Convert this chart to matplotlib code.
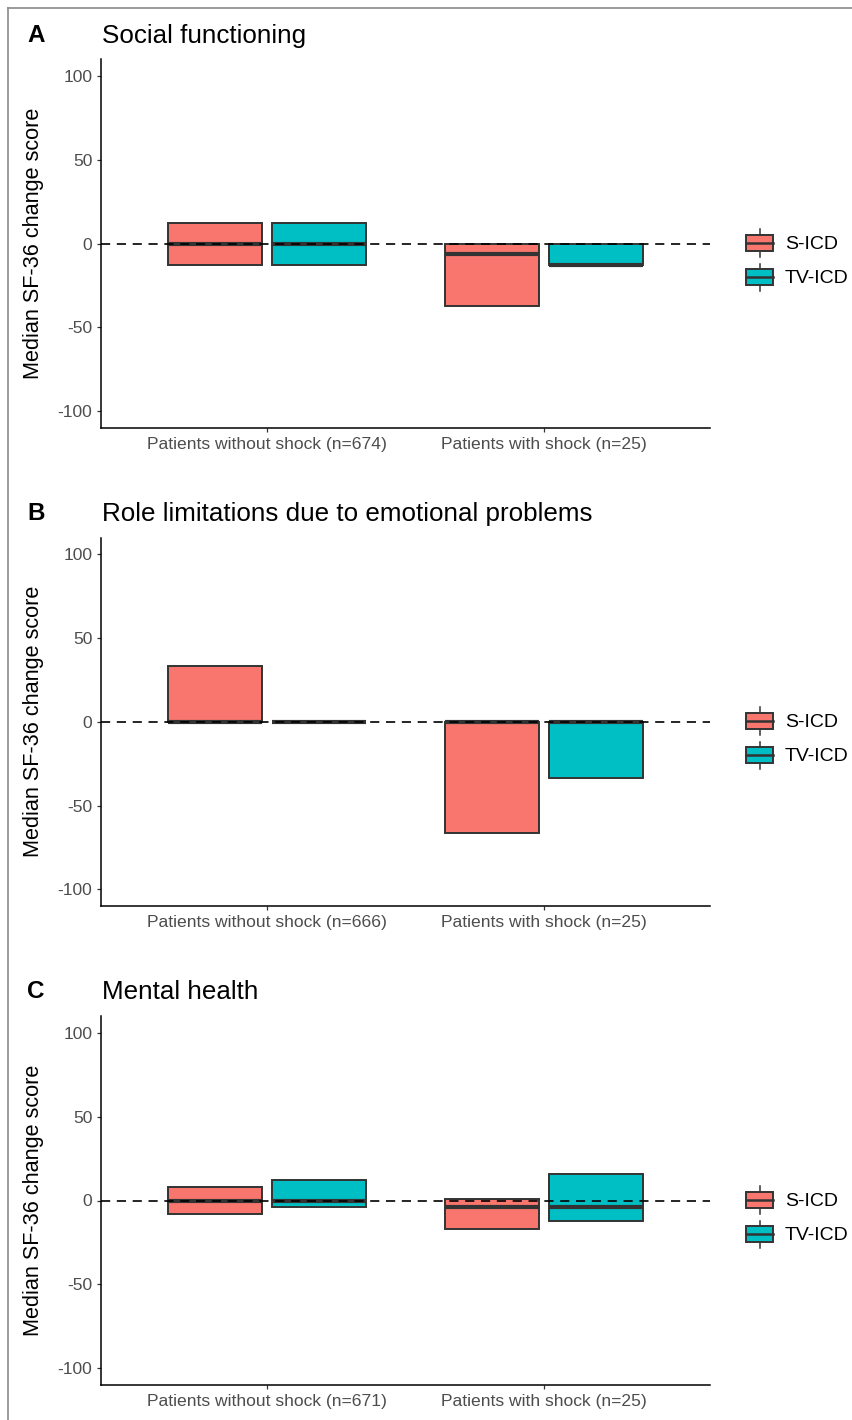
import matplotlib
matplotlib.use("Agg")
import matplotlib.pyplot as plt
from matplotlib.legend_handler import HandlerBase
from matplotlib.patches import Rectangle
from matplotlib.lines import Line2D

plt.rcParams['font.family'] = ['Liberation Sans', 'DejaVu Sans']

# ---------------- data ----------------
groups = ["S-ICD", "TV-ICD"]
colors = ["#F8766D", "#00BFC4"]
panel_letters = ["A", "B", "C"]
panel_titles = ["Social functioning",
                "Role limitations due to emotional problems",
                "Mental health"]
xlabels_A = ["Patients without shock (n=674)", "Patients with shock (n=25)"]
xlabels_B = ["Patients without shock (n=666)", "Patients with shock (n=25)"]
xlabels_C = ["Patients without shock (n=671)", "Patients with shock (n=25)"]

# [q1, median, q3] per category for S-ICD and TV-ICD
A_sicd = [[-12.5, 0, 12.5], [-37.5, -6.25, 0]]
A_tvicd = [[-12.5, 0, 12.5], [-12.5, -12.5, 0]]
B_sicd = [[0, 0, 33.3], [-66.7, 0, 0]]
B_tvicd = [[0, 0, 0], [-33.3, 0, 0]]
C_sicd = [[-8, 0, 8], [-17, -4, 1]]
C_tvicd = [[-4, 0, 12], [-12, -4, 16]]

yticks = [-100, -50, 0, 50, 100]

panels = [
    (A_sicd, A_tvicd, xlabels_A),
    (B_sicd, B_tvicd, xlabels_B),
    (C_sicd, C_tvicd, xlabels_C),
]

W, H = 852, 1420
fig = plt.figure(figsize=(W / 100, H / 100), dpi=100)

# axes pixel boxes (top, bottom)
ax_tops = [59.3, 537.5, 1016]
ax_bot = [428, 906, 1385]
left_px, right_px = 101, 710
title_y = [36, 514, 992]
legend_cy = [260, 738, 1217]

EDGE = "#333333"
TXT = "#4D4D4D"


class BoxHandler(HandlerBase):
    def __init__(self, color):
        super().__init__()
        self.color = color

    def create_artists(self, legend, orig_handle, xdescent, ydescent,
                       width, height, fontsize, trans):
        cx = width / 2 - xdescent
        cy = height / 2 - ydescent
        bh = height * 0.56
        rect = Rectangle((-xdescent, cy - bh / 2), width, bh,
                         facecolor=self.color, edgecolor=EDGE, lw=1.4,
                         transform=trans)
        med = Line2D([-xdescent, width - xdescent], [cy, cy], color=EDGE,
                     lw=1.8, transform=trans)
        w1 = Line2D([cx, cx], [cy + bh / 2, height - ydescent], color=EDGE,
                    lw=1.1, transform=trans)
        w2 = Line2D([cx, cx], [-ydescent, cy - bh / 2], color=EDGE,
                    lw=1.1, transform=trans)
        return [w1, w2, rect, med]


offset = 0.1875
bw = 0.3375
for i, (s_data, t_data, xl) in enumerate(panels):
    top, bot = ax_tops[i], ax_bot[i]
    ax = fig.add_axes([left_px / W, 1 - bot / H,
                       (right_px - left_px) / W, (bot - top) / H])
    for g, (data, col) in enumerate(zip([s_data, t_data], colors)):
        stats = []
        for q1, med, q3 in data:
            stats.append(dict(q1=q1, med=med, q3=q3, whislo=q1, whishi=q3,
                              fliers=[]))
        pos = [k + 1 + (offset if g else -offset) for k in range(len(data))]
        ax.bxp(stats, positions=pos, widths=bw, patch_artist=True,
               showcaps=False, showfliers=False,
               boxprops=dict(facecolor=col, edgecolor=EDGE, linewidth=1.4),
               medianprops=dict(color=EDGE, linewidth=3.0,
                                solid_capstyle='butt'),
               whiskerprops=dict(color=EDGE, linewidth=0),
               manage_ticks=False)
    ax.axhline(0, color="black", lw=1.2, linestyle=(0, (5.5, 4)), zorder=5)
    ax.set_xlim(0.4, 2.6)
    ax.set_ylim(-110, 110)
    ax.set_yticks(yticks)
    ax.set_yticklabels([str(v) for v in yticks])
    ax.set_xticks([1, 2])
    ax.set_xticklabels(xl)
    ax.tick_params(axis='both', labelsize=12.6, labelcolor=TXT,
                   color="#333333", length=3, width=0.9, pad=3.2)
    for s in ["top", "right"]:
        ax.spines[s].set_visible(False)
    for s in ["left", "bottom"]:
        ax.spines[s].set_linewidth(1.1)
        ax.spines[s].set_color("black")
    ax.set_ylabel("Median SF-36 change score", fontsize=15.6, color="black")
    ax.yaxis.set_label_coords(-0.093, 0.5)

    fig.text(36 / W, 1 - title_y[i] / H, panel_letters[i], fontsize=17.5,
             fontweight='bold', ha='center', va='center')
    fig.text(102 / W, 1 - title_y[i] / H, panel_titles[i], fontsize=18.7,
             ha='left', va='center')

    h1 = Rectangle((0, 0), 1, 1)
    h2 = Rectangle((0, 0), 1, 1)
    ax.legend([h1, h2], groups,
              handler_map={h1: BoxHandler(colors[0]), h2: BoxHandler(colors[1])},
              loc='center left',
              bbox_to_anchor=((746 - left_px) / (right_px - left_px),
                              (bot - legend_cy[i]) / (bot - top)),
              frameon=False, fontsize=14, handlelength=1.39,
              handleheight=1.76, labelspacing=0.36, handletextpad=0.62,
              borderpad=0, borderaxespad=0)

# figure border (top and left)
fig.add_artist(Line2D([8 / W, 1], [1 - 8 / H, 1 - 8 / H], color="#8a8a8a",
                      lw=1.2, transform=fig.transFigure))
fig.add_artist(Line2D([8 / W, 8 / W], [0, 1 - 8 / H], color="#8a8a8a",
                      lw=1.2, transform=fig.transFigure))

fig.savefig("out.png", dpi=100)
